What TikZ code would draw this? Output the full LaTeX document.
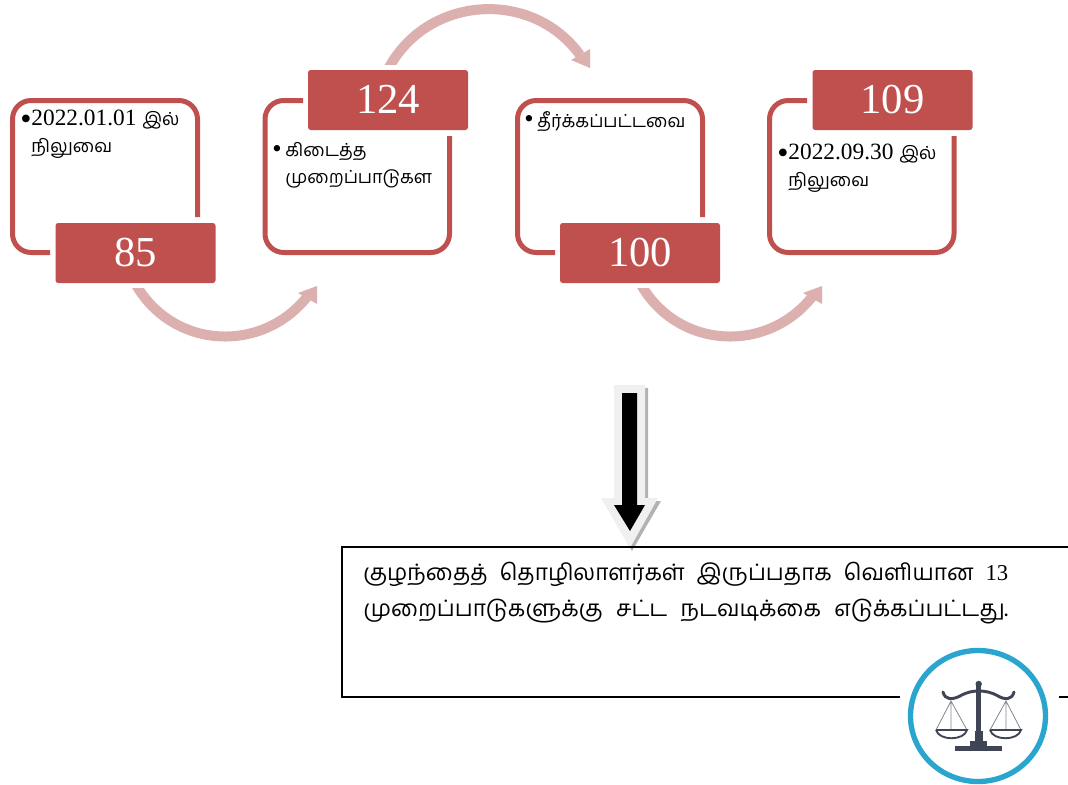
\documentclass[tikz,border=0pt]{standalone}
\usepackage{fontspec}
\setmainfont{Liberation Serif}
\newfontfamily\tamilfont[Script=Tamil]{Hind Madurai}
\definecolor{brick}{HTML}{C0504D}
\definecolor{paleband}{HTML}{DDB0B0}
\definecolor{iconink}{HTML}{3F4555}
\definecolor{ringblue}{HTML}{2AA5CE}
\newcommand{\ta}[1]{{\tamilfont\fontsize{13.5}{20}\selectfont #1}}
\newcommand{\tb}[1]{{\tamilfont #1}}
\newcommand{\bigbul}{{\fontsize{24}{20}\selectfont\raisebox{-2.5pt}{•}}}
\newcommand{\gapbul}{\hbox to 9.75pt{{\fontsize{20}{20}\selectfont\raisebox{-0.5pt}{•}}\hfil}}
\newcommand{\numtext}[1]{\raisebox{1.5pt}{#1}}
\tikzset{
  frameline/.style={draw=brick,line width=3.75pt,rounded corners=14pt},
  labelbox/.style={fill=brick,text=white,rounded corners=2pt,minimum width=120pt,minimum height=45pt,inner sep=0pt,font=\fontsize{32}{32}\selectfont},
  band/.style={draw=paleband,line width=7.5pt},
  bandtip/.style={fill=paleband},
  itemtext/.style={anchor=north west,inner sep=0pt,align=left,font=\fontsize{17.5}{20}\selectfont},
  bodytext/.style={anchor=north west,inner sep=0pt,align=left,font=\fontsize{17}{27}\selectfont},
  boxline/.style={draw=black,line width=1.5pt},
  ink/.style={draw=iconink,line width=1.4pt},
  thinink/.style={draw=iconink!65,line width=0.6pt}
}
\begin{document}
\begin{tikzpicture}[x=0.75pt,y=-0.75pt]
\useasboundingbox (0,0) rectangle (1068,785);
\fill[white] (0,0) rectangle (1068,785);

% frames
\path[frameline] (50,252.5) -- (12.5,252.5) -- (12.5,100.5) -- (197.5,100.5) -- (197.5,217);
\path[frameline] (303,100.5) -- (265,100.5) -- (265,252.5) -- (449.5,252.5) -- (449.5,136);
\path[frameline] (555,252.5) -- (517.5,252.5) -- (517.5,100.5) -- (702.5,100.5) -- (702.5,217);
\path[frameline] (807,100.5) -- (769.5,100.5) -- (769.5,252.5) -- (954,252.5) -- (954,136);

% number boxes
\node[labelbox] (n85)  at (135.5,253) {\numtext{85}};
\node[labelbox] (n124) at (388,100) {\numtext{124}};
\node[labelbox] (n100) at (640,253) {\numtext{100}};
\node[labelbox] (n109) at (892.5,100) {\numtext{109}};

% item texts
\node[itemtext] (t1) at (20,110) {\bigbul 2022.01.01 \ta{இல்}\\\phantom{\bigbul}\ta{நிலுவை}};
\node[itemtext] (t2) at (272,142) {\gapbul\ta{கிடைத்த}\\\hspace{9.75pt}\ta{முறைப்பாடுகள}};
\node[itemtext] (t3) at (524,111) {\gapbul\ta{தீர்க்கப்பட்டவை}};
\node[itemtext] (t4) at (777,144) {\bigbul 2022.09.30 \ta{இல்}\\\phantom{\bigbul}\ta{நிலுவை}};

% curved arrows
\coordinate (a1s) at (138,288); \coordinate (a1e) at (307,297);
\coordinate (a2s) at (391,64);  \coordinate (a2e) at (580,55);
\coordinate (a3s) at (643,288); \coordinate (a3e) at (812,297);
\begin{scope}
\clip (0,288) rectangle (1068,400);
\draw[band] (133,280) -- (a1s) .. controls (176,349) and (262,353) .. (a1e);
\draw[band] (638,280) -- (a3s) .. controls (681,349) and (767,353) .. (a3e);
\end{scope}
\begin{scope}
\clip (0,-10) rectangle (1068,64);
\draw[band] (386,72) -- (a2s) .. controls (432,-5) and (533,-10) .. (a2e);
\end{scope}
\fill[bandtip] (317,286) -- (298,293) -- (317,304) -- cycle;
\fill[bandtip] (590,68) -- (571,60) -- (590,49) -- cycle;
\fill[bandtip] (822,286) -- (803,293) -- (822,304) -- cycle;

% block arrow
\fill[black!30] (617,388) -- (648,388) -- (648,501) -- (661,501) -- (632,551) -- (604,501) -- (617,501) -- cycle;
\fill[black!6] (614,385) -- (645,385) -- (645,498) -- (658,498) -- (630,548) -- (601,498) -- (614,498) -- cycle;
\fill[black] (622,393) -- (637,393) -- (637,505) -- (645,505) -- (630,531) -- (614,505) -- (622,505) -- cycle;

% text box
\draw[boxline] (1075,547) -- (342,547) -- (342,697) -- (900,697);
\draw[boxline] (1059,697) -- (1075,697);
\node[bodytext] (body) at (363,562) {%
  \hbox to 483.75pt{\tb{குழந்தைத்}\hfill\tb{தொழிலாளர்கள்}\hfill\tb{இருப்பதாக}\hfill\tb{வெளியான}\hfill 13}\\
  \hbox to 483.75pt{\tb{முறைப்பாடுகளுக்கு}\hfill\tb{சட்ட}\hfill\tb{நடவடிக்கை}\hfill\tb{எடுக்கப்பட்டது.}}};

% scales emblem
\draw[ringblue,line width=4pt] (978,716) circle [x radius=67.5,y radius=65.5];
\draw[ink,line width=3.4pt] (978.7,686) -- (978.7,735);
\fill[iconink] (978.7,684) circle (3.2);
\draw[ink,line width=2.2pt,line cap=round] (943,692) .. controls (945,700) and (952,700) .. (960,696) .. controls (967,692) and (973,691) .. (978.7,691) .. controls (985,691) and (991,692) .. (998,696) .. controls (1005,700) and (1012,700) .. (1014,692);
\fill[iconink] (975,731) rectangle (982.5,743);
\fill[iconink] (970,741) rectangle (987,747);
\fill[iconink] (955,746) rectangle (1002,751);
\draw[thinink] (936,730) -- (951,701) -- (967,730) (951,701) -- (951,730);
\draw[thinink] (990,730) -- (1006,701) -- (1021,730) (1006,701) -- (1006,730);
\draw[ink] (936,730) -- (967,730) .. controls (964,741) and (939,741) .. (936,730);
\draw[ink] (990,730) -- (1021,730) .. controls (1018,741) and (993,741) .. (990,730);
\end{tikzpicture}
\end{document}
